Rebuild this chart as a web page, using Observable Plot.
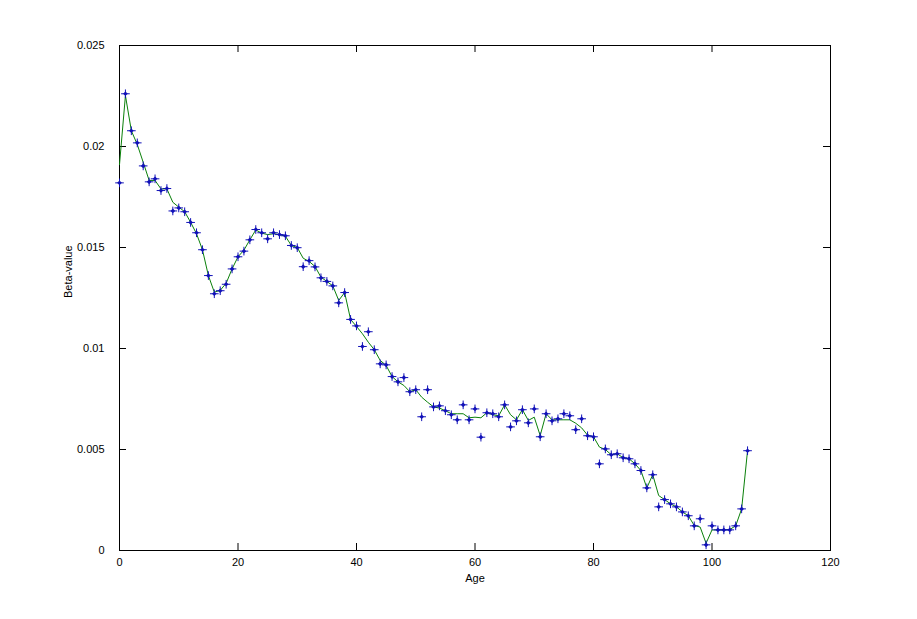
<!DOCTYPE html>
<html>
<head>
<meta charset="utf-8">
<script src="https://cdn.jsdelivr.net/npm/d3@7"></script>
<script src="https://cdn.jsdelivr.net/npm/@observablehq/plot@0.6"></script>
<style>
  html, body { margin: 0; padding: 0; background: #ffffff; }
  #chart svg { display: block; }
</style>
</head>
<body>
<div id="chart"></div>
<script>
// Ages (x) 0..106
const ages = d3.range(0, 107);

// Observed beta-values (blue markers)
const betaPoints = [
  0.01820, 0.02261, 0.02078, 0.02018, 0.01904, 0.01825, 0.01840, 0.01782, 0.01792, 0.01681,
  0.01696, 0.01677, 0.01624, 0.01573, 0.01489, 0.01361, 0.01271, 0.01286, 0.01318, 0.01394,
  0.01454, 0.01482, 0.01538, 0.01589, 0.01573, 0.01543, 0.01573, 0.01564, 0.01558, 0.01510,
  0.01499, 0.01405, 0.01435, 0.01404, 0.01350, 0.01332, 0.01310, 0.01226, 0.01277, 0.01144,
  0.01112, 0.01010, 0.01083, 0.00994, 0.00924, 0.00919, 0.00861, 0.00835, 0.00856, 0.00786,
  0.00796, 0.00662, 0.00796, 0.00711, 0.00716, 0.00692, 0.00672, 0.00647, 0.00721, 0.00647,
  0.00701, 0.00561, 0.00682, 0.00677, 0.00662, 0.00721, 0.00612, 0.00642, 0.00697, 0.00632,
  0.00701, 0.00563, 0.00677, 0.00642, 0.00652, 0.00677, 0.00667, 0.00598, 0.00652, 0.00568,
  0.00563, 0.00429, 0.00503, 0.00474, 0.00479, 0.00459, 0.00454, 0.00429, 0.00396, 0.00310,
  0.00375, 0.00216, 0.00252, 0.00231, 0.00216, 0.00191, 0.00172, 0.00122, 0.00157, 0.00028,
  0.00122, 0.00102, 0.00102, 0.00102, 0.00122, 0.00206, 0.00494
];

// Smoothed curve (green line)
const betaSmooth = [
  0.01910, 0.02252, 0.02078, 0.02010, 0.01922, 0.01832, 0.01832, 0.01790, 0.01790, 0.01724,
  0.01700, 0.01677, 0.01625, 0.01568, 0.01489, 0.01361, 0.01279, 0.01288, 0.01323, 0.01394,
  0.01454, 0.01487, 0.01538, 0.01587, 0.01571, 0.01564, 0.01568, 0.01564, 0.01556, 0.01510,
  0.01500, 0.01447, 0.01431, 0.01406, 0.01353, 0.01332, 0.01310, 0.01238, 0.01277, 0.01144,
  0.01109, 0.01073, 0.01031, 0.00994, 0.00941, 0.00916, 0.00861, 0.00835, 0.00817, 0.00786,
  0.00796, 0.00759, 0.00734, 0.00711, 0.00705, 0.00692, 0.00677, 0.00677, 0.00677, 0.00657,
  0.00660, 0.00657, 0.00682, 0.00672, 0.00667, 0.00721, 0.00672, 0.00647, 0.00697, 0.00644,
  0.00660, 0.00569, 0.00677, 0.00647, 0.00647, 0.00647, 0.00647, 0.00630, 0.00607, 0.00571,
  0.00563, 0.00512, 0.00500, 0.00474, 0.00479, 0.00459, 0.00454, 0.00429, 0.00396, 0.00310,
  0.00375, 0.00272, 0.00252, 0.00231, 0.00216, 0.00191, 0.00172, 0.00124, 0.00116, 0.00036,
  0.00102, 0.00102, 0.00102, 0.00104, 0.00122, 0.00206, 0.00494
];

// Tick values and labels
const xTicks = [0, 20, 40, 60, 80, 100, 120];
const yTicks = [0, 0.005, 0.01, 0.015, 0.02, 0.025];
const yTickLabels = ["0", "0.005", "0.01", "0.015", "0.02", "0.025"];
const xLabel = "Age";
const yLabel = "Beta-value";

const points = ages.map((a, i) => ({age: a, beta: betaPoints[i]}));
const smooth = ages.map((a, i) => ({age: a, beta: betaSmooth[i]}));

const W = 917, H = 619;
const mL = 119, mR = 87, mT = 45, mB = 69;
const plotW = W - mL - mR, plotH = H - mT - mB;
const tickLen = 7;

const chart = Plot.plot({
  width: W,
  height: H,
  marginLeft: mL,
  marginRight: mR,
  marginTop: mT,
  marginBottom: mB,
  style: {fontFamily: "'Liberation Sans', Arial, sans-serif", fontSize: "11px", background: "#ffffff", color: "#000000"},
  x: {domain: [0, 120]},
  y: {domain: [0, 0.025]},
  marks: [
    // inward tick marks on all four sides
    Plot.ruleX(xTicks, {x: d => d, insetTop: plotH - tickLen, stroke: "#000", strokeWidth: 1}),
    Plot.ruleX(xTicks, {x: d => d, insetBottom: plotH - tickLen, stroke: "#000", strokeWidth: 1}),
    Plot.ruleY(yTicks, {y: d => d, insetRight: plotW - tickLen, stroke: "#000", strokeWidth: 1}),
    Plot.ruleY(yTicks, {y: d => d, insetLeft: plotW - tickLen, stroke: "#000", strokeWidth: 1}),
    Plot.axisX({ticks: xTicks, tickSize: 0, tickPadding: 8, label: null, tickFormat: d => String(d)}),
    Plot.axisY({ticks: yTicks, tickSize: 0, tickPadding: 15, label: null,
      tickFormat: d => yTickLabels[yTicks.indexOf(d)]}),
    Plot.frame({stroke: "#000", strokeWidth: 1}),
    Plot.line(smooth, {x: "age", y: "beta", stroke: "#0a800a", strokeWidth: 1}),
    Plot.dot(points, {x: "age", y: "beta", symbol: "diamond2", r: 2.1, fill: "#1212b8", stroke: "none"}),
    Plot.dot(points, {x: "age", y: "beta", symbol: "plus", r: 2.9, stroke: "#1212b8", strokeWidth: 1}),
    Plot.text([xLabel], {frameAnchor: "bottom", dy: 31, text: d => d, fill: "#000", fontSize: 11}),
    Plot.text([yLabel], {frameAnchor: "left", dx: -51, rotate: -90, text: d => d, fill: "#000", fontSize: 11})
  ]
});

document.getElementById("chart").appendChild(chart);
</script>
</body>
</html>
